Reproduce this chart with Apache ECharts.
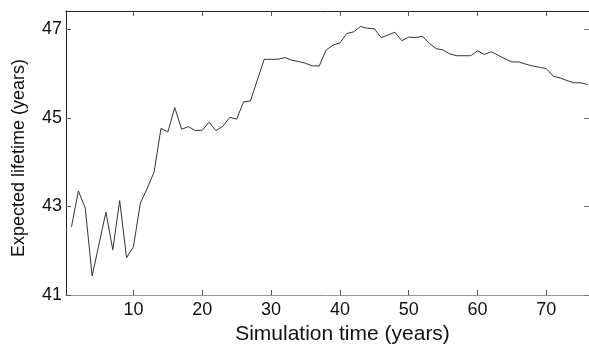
<!DOCTYPE html>
<html><head><meta charset="utf-8">
<script src="https://cdn.jsdelivr.net/npm/echarts@6/dist/echarts.min.js"></script>
<style>html,body{margin:0;padding:0;background:#fff}#c{width:589px;height:349px}</style>
</head><body><div id="c"></div>
<script>
const years = [];
for (let i = 1; i <= 76; i++) years.push(i);
const lifetime = [
42.54,43.35,42.96,41.43,42.15,42.87,42.02,43.13,41.84,42.09,
43.07,43.41,43.77,44.76,44.68,45.23,44.74,44.80,44.71,44.72,
44.90,44.71,44.81,45.01,44.97,45.36,45.38,45.85,46.32,46.32,
46.32,46.36,46.30,46.27,46.23,46.17,46.17,46.53,46.64,46.69,
46.90,46.94,47.06,47.02,47.01,46.81,46.87,46.93,46.74,46.82,
46.81,46.84,46.68,46.56,46.53,46.44,46.40,46.40,46.40,46.51,
46.43,46.49,46.41,46.33,46.26,46.26,46.21,46.17,46.14,46.11,
45.94,45.90,45.84,45.79,45.79,45.75];
const xTicks = [10,20,30,40,50,60,70];
const yTicks = [41,43,45,47];
const xTitle = 'Simulation time (years)';
const yTitle = 'Expected lifetime (years)';

const font = 'Liberation Sans, Arial, sans-serif';
const chart = echarts.init(document.getElementById('c'), null, {renderer:'canvas'});
const pts = years.map((x,i)=>[x, lifetime[i]]);
const axBase = {
  type:'value', splitLine:{show:false},
  axisLine:{show:true, onZero:false, lineStyle:{color:'#222', width:1}},
  axisTick:{show:true, inside:true, length:5, lineStyle:{color:'#555'}},
};
chart.setOption({
  animation:false,
  backgroundColor:'#fff',
  grid:{left:66, right:0, top:11, bottom:54, containLabel:false, outerBoundsMode:'none'},
  xAxis:[
    Object.assign({}, axBase, {min:0.2, max:76.2, position:'bottom',
      axisLine:{show:true, onZero:false, lineStyle:{color:'#999', width:1}},
      axisTick:{show:true, inside:true, length:5, customValues:xTicks, lineStyle:{color:'#555'}},
      axisLabel:{customValues:xTicks, color:'#111', fontSize:18, fontFamily:font, margin:6},
      name:xTitle, nameLocation:'middle', nameGap:29,
      nameTextStyle:{color:'#111', fontSize:21, fontFamily:font, padding:[0,0,0,30]}}),
    Object.assign({}, axBase, {min:0.2, max:76.2, position:'top',
      axisLine:{show:true, onZero:false, lineStyle:{color:'#222', width:1}},
      axisTick:{show:true, inside:true, length:5, customValues:xTicks, lineStyle:{color:'#555'}},
      axisLabel:{show:false}})
  ],
  yAxis:[
    Object.assign({}, axBase, {min:41, max:47.41, position:'left',
      axisTick:{show:true, inside:true, length:5, customValues:yTicks, lineStyle:{color:'#555'}},
      axisLabel:{customValues:yTicks, color:'#111', fontSize:18, fontFamily:font, margin:4},
      name:yTitle, nameLocation:'middle', nameGap:38, nameRotate:90,
      nameTextStyle:{color:'#111', fontSize:18, fontFamily:font, padding:[0,10,0,0]}}),
    Object.assign({}, axBase, {min:41, max:47.41, position:'right',
      axisLine:{show:true, onZero:false, lineStyle:{color:'#aaa', width:1}},
      axisTick:{show:true, inside:true, length:5, customValues:yTicks, lineStyle:{color:'#777'}},
      axisLabel:{show:false}})
  ],
  series:[{type:'line', data:pts, xAxisIndex:0, yAxisIndex:0, showSymbol:false,
    lineStyle:{color:'#333', width:1}}]
});
</script></body></html>
